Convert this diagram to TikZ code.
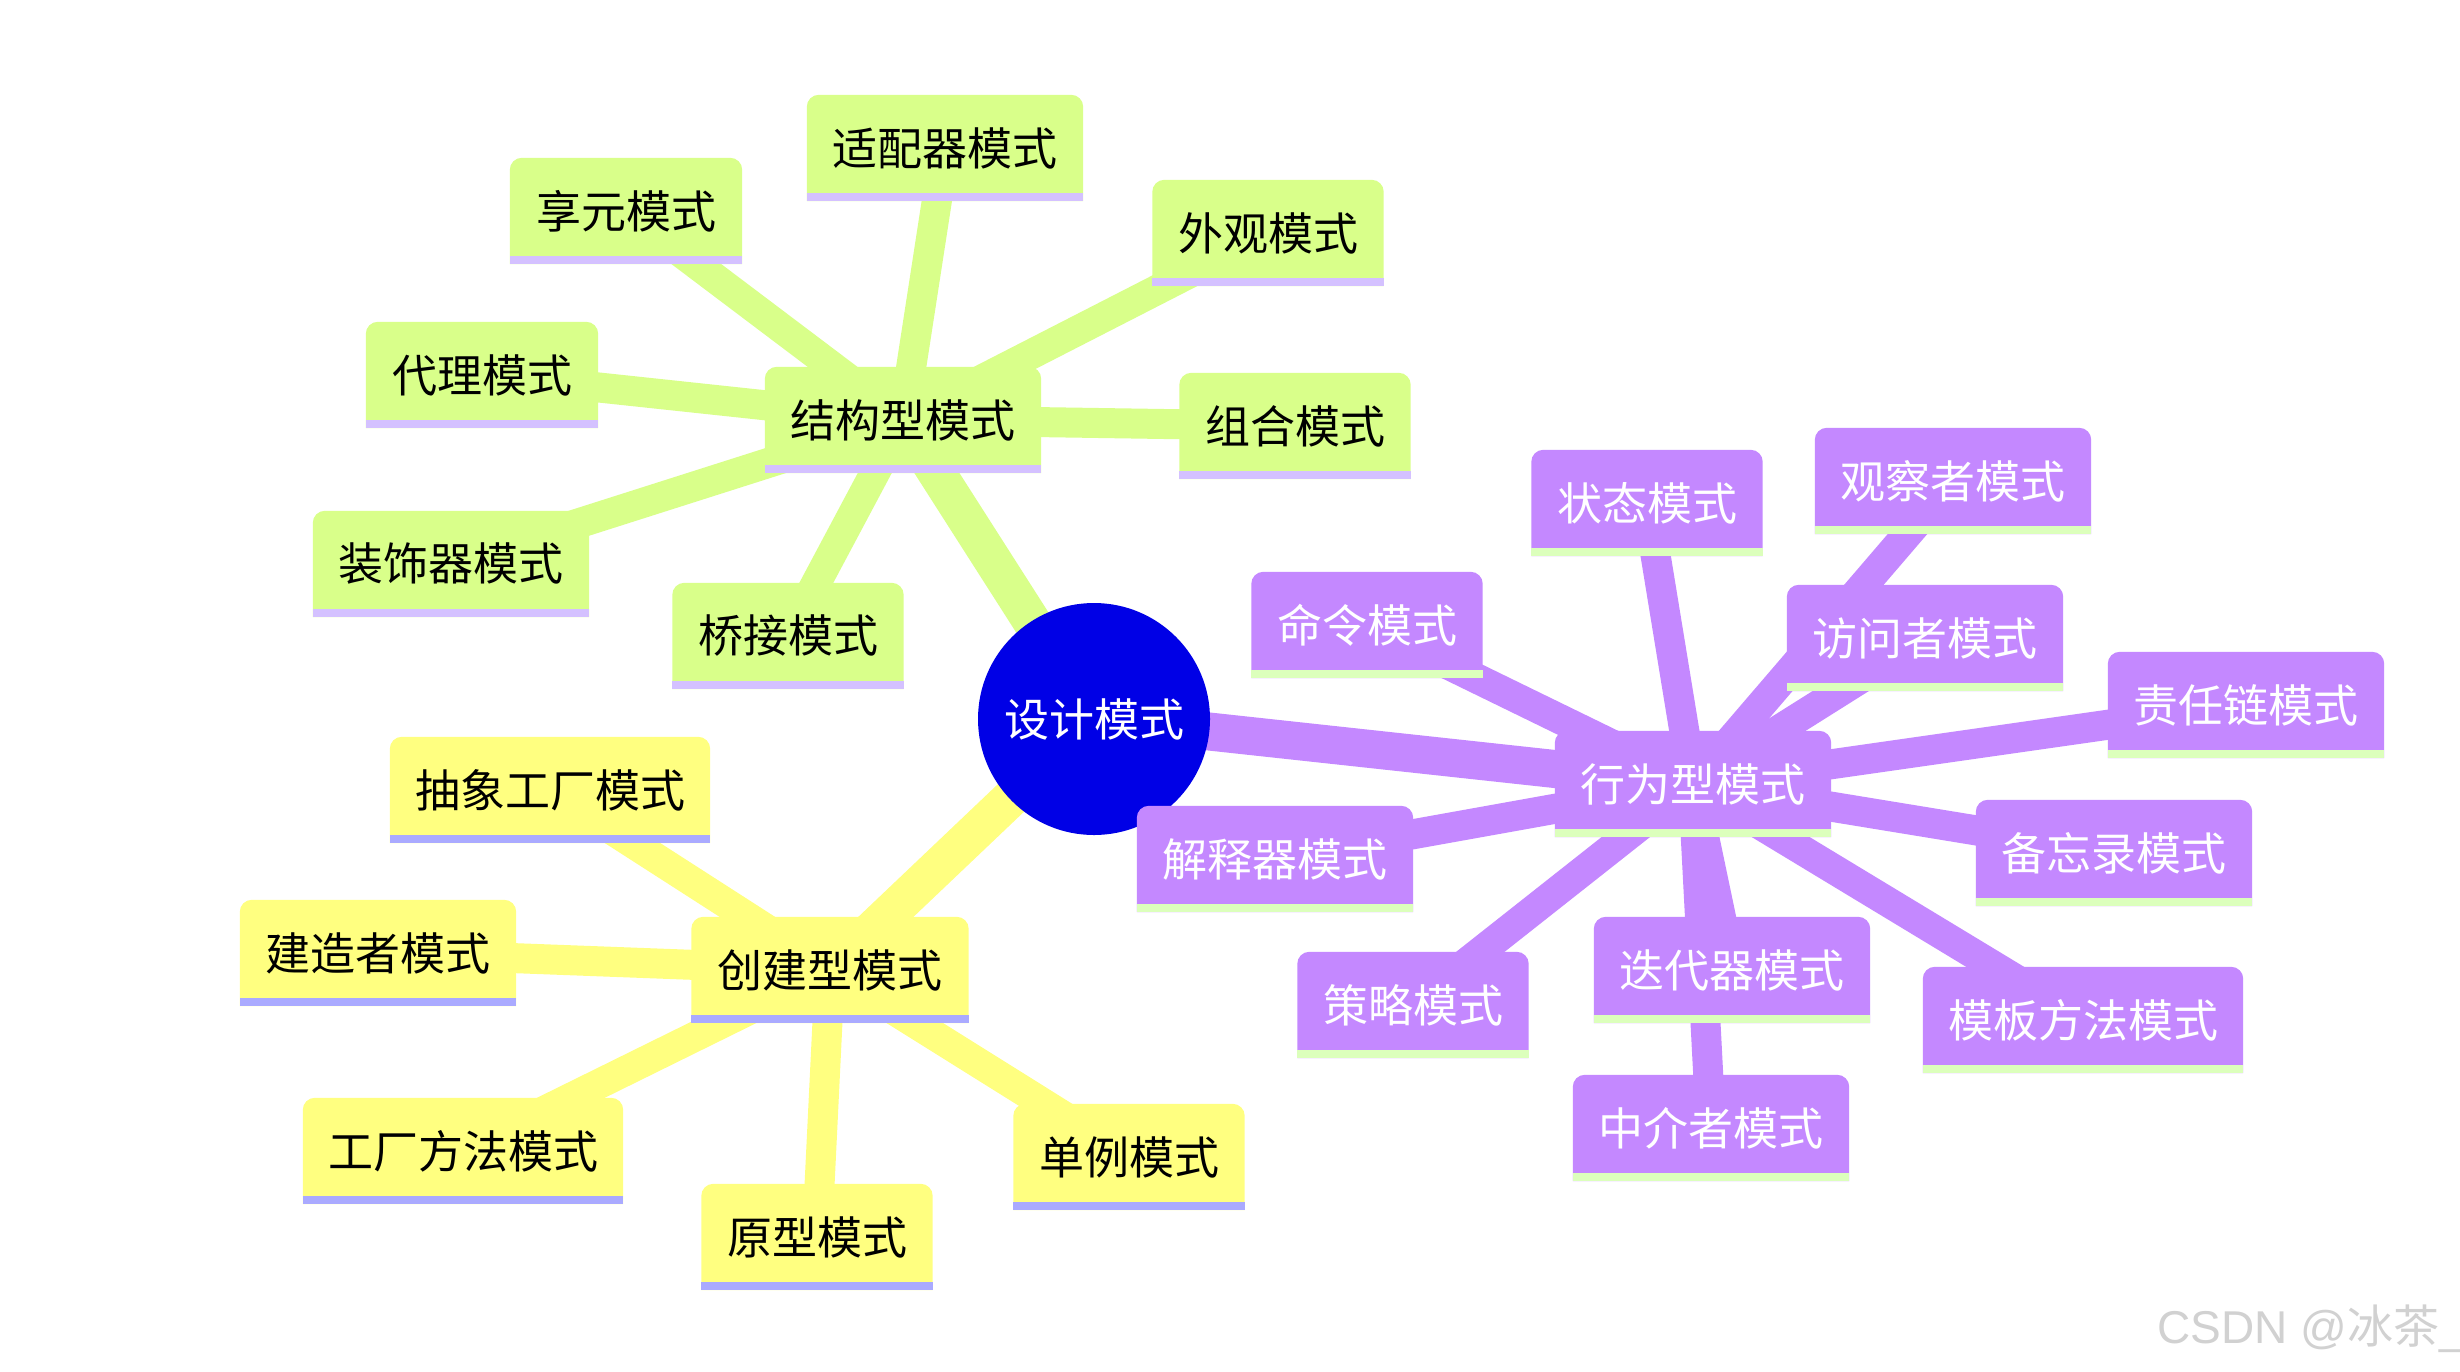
\documentclass[tikz,border=0pt]{standalone}
\usepackage{fontspec}
\newfontfamily\cjk{Noto Sans CJK SC}
\newfontfamily\lib{Liberation Sans}
\definecolor{gfill}{HTML}{D9FF8A}
\definecolor{gul}{HTML}{D4C1FF}
\definecolor{yfill}{HTML}{FFFF80}
\definecolor{yul}{HTML}{AAAAFF}
\definecolor{pfill}{HTML}{C488FF}
\definecolor{pul}{HTML}{DCFFBC}
\definecolor{cblue}{HTML}{0000E6}
\pgfdeclarelayer{bg}
\pgfdeclarelayer{lines}
\pgfdeclarelayer{boxes}
\pgfsetlayers{bg,lines,boxes,main}
\tikzset{
  mmtext/.style={font=\cjk\fontsize{45}{54}\selectfont, inner sep=0pt, minimum height=106pt},
  gline/.style={draw=gfill, line width=30pt},
  yline/.style={draw=yfill, line width=30pt},
  pline/.style={draw=pfill, line width=30pt},
  gmain/.style={draw=gfill, line width=38pt},
  ymain/.style={draw=yfill, line width=38pt},
  pmain/.style={draw=pfill, line width=38pt},
}
% name, x, y, width, fill, underline, text colour, text
\newcommand\mmnode[8]{%
  \node[mmtext, text=#7, minimum width=#4pt] (#1) at (#2,#3) {#8};
  \begin{pgfonlayer}{boxes}
    \fill[#5] (#1.south west) -- ([yshift=-12pt]#1.north west)
      arc[start angle=180, end angle=90, radius=12pt]
      -- ([xshift=-12pt]#1.north east)
      arc[start angle=90, end angle=0, radius=12pt]
      -- (#1.south east) -- cycle;
    \fill[#6] (#1.south west) rectangle ([yshift=8pt]#1.south east);
  \end{pgfonlayer}}
\begin{document}
\begin{tikzpicture}[x=1pt, y=-1pt]
\begin{pgfonlayer}{bg}
  \fill[white] (0,0) rectangle (2460,1371);
\end{pgfonlayer}
\useasboundingbox (0,0) rectangle (2460,1371);
% centre
\node[circle, minimum size=232pt, inner sep=0pt, text=white, font=\cjk\fontsize{45}{54}\selectfont] (c) at (1094,719) {设计模式};
\begin{pgfonlayer}{boxes}
  \fill[cblue] (c.center) circle[radius=116pt];
\end{pgfonlayer}
% structural (green)
\mmnode{jg}{903}{420}{276}{gfill}{gul}{black}{结构型模式}
\mmnode{sp}{945}{148}{276}{gfill}{gul}{black}{适配器模式}
\mmnode{xy}{626}{211}{232}{gfill}{gul}{black}{享元模式}
\mmnode{wg}{1268}{233}{231}{gfill}{gul}{black}{外观模式}
\mmnode{dl}{482}{375}{232}{gfill}{gul}{black}{代理模式}
\mmnode{zh}{1295}{426}{231}{gfill}{gul}{black}{组合模式}
\mmnode{zs}{451}{564}{276}{gfill}{gul}{black}{装饰器模式}
\mmnode{qj}{788}{636}{231}{gfill}{gul}{black}{桥接模式}
% creational (yellow)
\mmnode{cj}{830}{970}{277}{yfill}{yul}{black}{创建型模式}
\mmnode{cx}{550}{790}{320}{yfill}{yul}{black}{抽象工厂模式}
\mmnode{jz}{378}{953}{276}{yfill}{yul}{black}{建造者模式}
\mmnode{gf}{463}{1151}{320}{yfill}{yul}{black}{工厂方法模式}
\mmnode{yx}{817}{1237}{231}{yfill}{yul}{black}{原型模式}
\mmnode{dn}{1129}{1157}{231}{yfill}{yul}{black}{单例模式}
% behavioural (purple)
\mmnode{xw}{1693}{784}{276}{pfill}{pul}{white}{行为型模式}
\mmnode{zt}{1647}{503}{231}{pfill}{pul}{white}{状态模式}
\mmnode{gc}{1953}{481}{276}{pfill}{pul}{white}{观察者模式}
\mmnode{ml}{1367}{625}{231}{pfill}{pul}{white}{命令模式}
\mmnode{fw}{1925}{638}{276}{pfill}{pul}{white}{访问者模式}
\mmnode{zr}{2246}{705}{276}{pfill}{pul}{white}{责任链模式}
\mmnode{js}{1275}{859}{276}{pfill}{pul}{white}{解释器模式}
\mmnode{bw}{2114}{853}{276}{pfill}{pul}{white}{备忘录模式}
\mmnode{cl}{1413}{1005}{231}{pfill}{pul}{white}{策略模式}
\mmnode{dd}{1732}{970}{276}{pfill}{pul}{white}{迭代器模式}
\mmnode{mb}{2083}{1020}{320}{pfill}{pul}{white}{模板方法模式}
\mmnode{zj}{1711}{1128}{276}{pfill}{pul}{white}{中介者模式}
% watermark
\node[anchor=west, inner sep=0pt, text=black!18, font=\fontsize{46}{50}\selectfont] (wm) at (2157,1329) {\lib CSDN @\cjk 冰茶\lib\_};
% connectors
\begin{pgfonlayer}{lines}
  \draw[gmain] (c.center) -- (jg.center);
  \draw[ymain] (c.center) -- (cj.center);
  \draw[pmain] (c.center) -- (xw.center);
  \foreach \n in {sp,xy,wg,dl,zh,zs,qj} \draw[gline] (jg.center) -- (\n.center);
  \foreach \n in {cx,jz,gf,yx,dn} \draw[yline] (cj.center) -- (\n.center);
  \foreach \n in {zt,gc,ml,fw,zr,js,bw,cl,dd,mb,zj} \draw[pline] (xw.center) -- (\n.center);
\end{pgfonlayer}
\end{tikzpicture}
\end{document}
